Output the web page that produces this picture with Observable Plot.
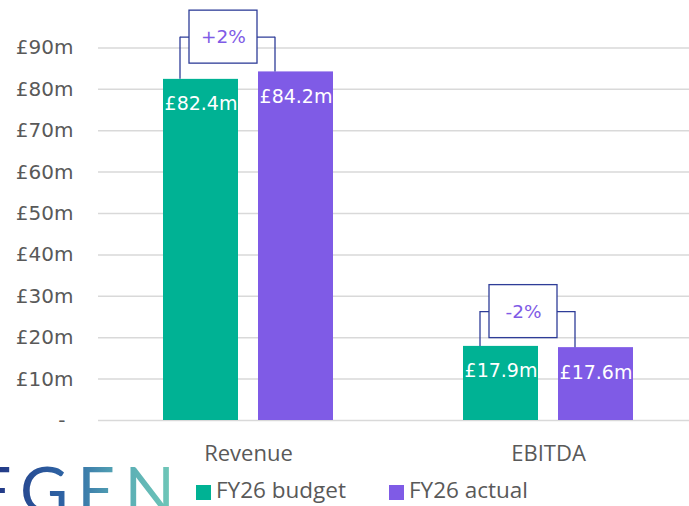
<!DOCTYPE html>
<html>
<head>
<meta charset="utf-8">
<script src="https://cdn.jsdelivr.net/npm/d3@7"></script>
<script src="https://cdn.jsdelivr.net/npm/@observablehq/plot@0.6"></script>
<style>
  html, body { margin: 0; padding: 0; background: #fff; }
  body { width: 689px; height: 506px; overflow: hidden; position: relative; }
  #chart { position: absolute; left: 0; top: 0; }
  .legend { position: absolute; top: 479px; height: 22px; line-height: 22px; font-family: "Open Sans", sans-serif; font-size: 22.5px; color: #595959; display: flex; align-items: center; white-space: nowrap; }
  .legend .sw { width: 15px; height: 15px; margin-right: 5px; margin-top: 4px; flex: none; }
  #logo { position: absolute; left: 0; top: 458px; }
</style>
</head>
<body>
<div id="chart"></div>
<svg id="logo" width="200" height="48">
  <defs>
    <linearGradient id="lg" x1="0" x2="1" y1="0" y2="0">
      <stop offset="0" stop-color="#1f2a7c"/>
      <stop offset="0.45" stop-color="#2f67a6"/>
      <stop offset="0.7" stop-color="#58abb5"/>
      <stop offset="1" stop-color="#74cdb8"/>
    </linearGradient>
  </defs>
  <text x="-26" y="56" font-family="Lato, sans-serif" font-size="66" letter-spacing="9" fill="url(#lg)">EGEN</text>
</svg>
<div class="legend" style="left:196px"><div class="sw" style="background:#00B294"></div>FY26 budget</div>
<div class="legend" style="left:389px"><div class="sw" style="background:#7F5BE6"></div>FY26 actual</div>
<script>
const categories = ["Revenue", "EBITDA"];
const seriesNames = ["FY26 budget", "FY26 actual"];
const budgetValues = [82.4, 17.9];
const actualValues = [84.2, 17.6];
const changeLabels = ["+2%", "-2%"];
const yTicks = [0, 10, 20, 30, 40, 50, 60, 70, 80, 90];
const seriesColors = ["#00B294", "#7F5BE6"];

const navy = "#2E3D98";
const purple = "#7F5BE6";
const gray = "#595959";

const annot = categories.map((cat, i) => {
  const top = Math.max(budgetValues[i], actualValues[i]);
  const center = top + 8.4;
  return {cat, center, y1: center - 6.4, y2: center + 6.4, label: changeLabels[i]};
});
const rows = [];
categories.forEach((cat, i) => {
  rows.push({cat, series: seriesNames[0], value: budgetValues[i], center: annot[i].center});
  rows.push({cat, series: seriesNames[1], value: actualValues[i], center: annot[i].center});
});

const chart = Plot.plot({
  width: 689,
  height: 475,
  marginLeft: 98,
  marginRight: -9,
  marginTop: 6,
  marginBottom: 55,
  style: {background: "transparent", overflow: "visible"},
  fx: {domain: categories, padding: 0, label: null, axis: null},
  x: {domain: seriesNames, paddingInner: 20 / 95, paddingOuter: 65 / 95, axis: null},
  y: {domain: [0, 100], axis: null},
  color: {domain: seriesNames, range: seriesColors},
  marks: [
    Plot.gridY(yTicks, {stroke: "#D9D9D9", strokeOpacity: 1, strokeWidth: 1.5}),
    Plot.axisY(yTicks.filter(v => v > 0), {tickSize: 0, tickPadding: 25, tickFormat: v => `£${v}m`, fontSize: 20, fontFamily: "DejaVu Sans", fill: gray, label: null}),
    Plot.axisY([0], {tickSize: 0, tickPadding: 33, tickFormat: () => "-", fontSize: 20, fontFamily: "DejaVu Sans", fill: gray, label: null}),
    Plot.axisFx({anchor: "bottom", tickSize: 0, tickPadding: 25, fontSize: 22, fontFamily: "Open Sans", fill: gray, label: null}),
    Plot.barY(rows, {fx: "cat", x: "series", y: "value", fill: "series"}),
    Plot.text(rows, {fx: "cat", x: "series", y: "value", text: d => `£${d.value.toFixed(1)}m`, dy: 25, fill: "white", fontSize: 19, fontFamily: "DejaVu Sans"}),
    Plot.link(annot, {fx: "cat", x1: () => seriesNames[0], x2: () => seriesNames[1], y1: "center", y2: "center", dx: -21, stroke: navy, strokeWidth: 1.3}),
    Plot.ruleX(rows, {fx: "cat", x: "series", y1: "value", y2: "center", dx: -21, stroke: navy, strokeWidth: 1.3}),
    Plot.barY(annot, {fx: "cat", x: () => seriesNames[0], y1: "y1", y2: "y2", dx: 26, insetRight: 7, fill: "white", stroke: navy, strokeWidth: 1.3}),
    Plot.text(annot, {fx: "cat", x: () => seriesNames[0], y: "center", dx: 22.5, text: "label", fill: purple, fontSize: 18.5, fontFamily: "DejaVu Sans"})
  ]
});
document.getElementById("chart").appendChild(chart);
</script>
</body>
</html>
